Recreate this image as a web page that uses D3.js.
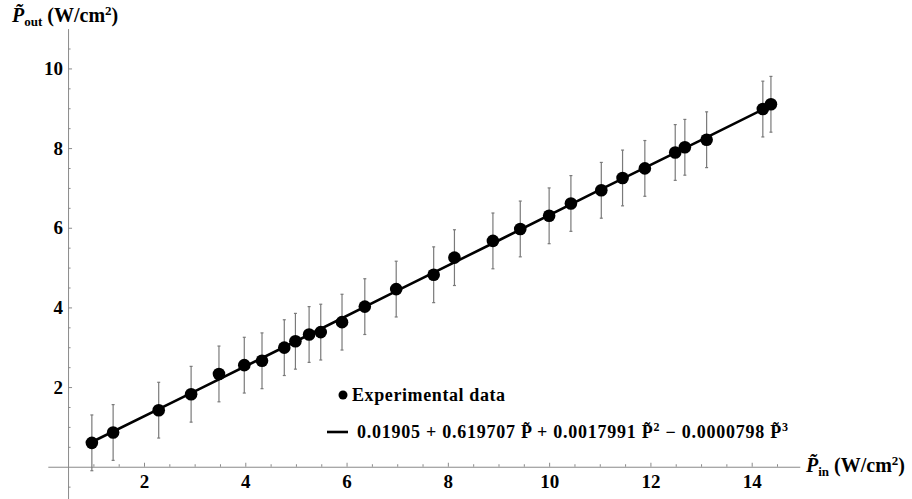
<!DOCTYPE html>
<html>
<head>
<meta charset="utf-8">
<script src="https://cdn.jsdelivr.net/npm/d3@7"></script>
<style>
  body { margin: 0; background: #fff; }
  svg text { font-family: "Liberation Serif", "DejaVu Serif", "Noto Serif", serif; font-weight: bold; }
</style>
</head>
<body>
<div id="chart"></div>
<script>
// Measured input / output power density (W/cm2)
const pIn = [0.97, 1.39, 2.29, 2.93, 3.48, 3.98, 4.33, 4.77, 4.99, 5.26, 5.49, 5.91, 6.36, 6.98,
  7.72, 8.13, 8.89, 9.43, 10.0, 10.43, 11.03, 11.45, 11.89, 12.49, 12.68, 13.11, 14.22, 14.38];
const pOut = [0.6, 0.86, 1.42, 1.82, 2.33, 2.55, 2.66, 2.99, 3.15, 3.32, 3.38, 3.63, 4.02, 4.46,
  4.82, 5.25, 5.67, 5.97, 6.3, 6.61, 6.94, 7.25, 7.49, 7.89, 8.02, 8.21, 8.98, 9.1];
const pOutErr = [0.7, 0.7, 0.7, 0.7, 0.7, 0.7, 0.7, 0.7, 0.7, 0.7, 0.7, 0.7, 0.7, 0.7,
  0.7, 0.7, 0.7, 0.7, 0.7, 0.7, 0.7, 0.7, 0.7, 0.7, 0.7, 0.7, 0.7, 0.7];

// Fitted curve
const fitX = [0.97, 3, 5, 7, 9, 11, 13, 14.38];
const fitY = [0.62, 1.89, 3.15, 4.42, 5.68, 6.95, 8.2, 9.07];

const xTicks = [2, 4, 6, 8, 10, 12, 14];
const yTicks = [2, 4, 6, 8, 10];

const width = 912, height = 499;
const serif = '"Liberation Serif", "DejaVu Serif", "Noto Serif", serif';

const svg = d3.select('#chart')
  .append('svg')
  .attr('width', width)
  .attr('height', height);

// Scales (axes cross at x = 0.5, y = 0, Mathematica style)
const x = d3.scaleLinear().domain([0.1, 14.95]).range([47.8, 799.8]);
const y = d3.scaleLinear().domain([-0.8, 11.0]).range([498.6, 28.6]);
const axisColor = '#8a8a8a';

// Minor ticks every 0.5
const xMinor = d3.range(1, 15, 0.5).filter((v) => v % 2 !== 0);
const yMinor = d3.range(-0.5, 11, 0.5).filter((v) => v % 2 !== 0 && v !== 0);

// X axis
const xAxisG = svg.append('g').attr('transform', 'translate(0,' + y(0) + ')');
xAxisG.call(d3.axisBottom(x).tickValues(xTicks).tickSizeInner(-4).tickSizeOuter(0).tickPadding(8));
xAxisG.append('g')
  .call(d3.axisBottom(x).tickValues(xMinor).tickSizeInner(-2.5).tickSizeOuter(0).tickFormat(''))
  .select('.domain').remove();

// Y axis
const yAxisG = svg.append('g').attr('transform', 'translate(' + x(0.5) + ',0)');
yAxisG.call(d3.axisLeft(y).tickValues(yTicks).tickSizeInner(-4).tickSizeOuter(0).tickPadding(5));
yAxisG.append('g')
  .call(d3.axisLeft(y).tickValues(yMinor).tickSizeInner(-2.5).tickSizeOuter(0).tickFormat(''))
  .select('.domain').remove();

svg.selectAll('g').attr('font-family', serif);
svg.selectAll('.domain, .tick line').attr('stroke', axisColor).attr('stroke-width', 1);
svg.selectAll('.tick text')
  .attr('fill', '#000')
  .style('font-size', '19px')
  .style('font-family', serif)
  .style('font-weight', 'bold');

// Error bars
const pts = pIn.map((v, i) => ({ x: v, y: pOut[i], e: pOutErr[i] }));
const err = svg.append('g').attr('stroke', '#7a7a7a').attr('stroke-width', 1.2);
err.selectAll('line.bar')
  .data(pts)
  .enter()
  .append('line')
  .attr('class', 'bar')
  .attr('x1', (d) => x(d.x))
  .attr('x2', (d) => x(d.x))
  .attr('y1', (d) => y(d.y - d.e))
  .attr('y2', (d) => y(d.y + d.e));
['top', 'bottom'].forEach((side) => {
  err.selectAll('line.cap-' + side)
    .data(pts)
    .enter()
    .append('line')
    .attr('class', 'cap-' + side)
    .attr('x1', (d) => x(d.x) - 1.5)
    .attr('x2', (d) => x(d.x) + 1.5)
    .attr('y1', (d) => y(side === 'top' ? d.y + d.e : d.y - d.e))
    .attr('y2', (d) => y(side === 'top' ? d.y + d.e : d.y - d.e));
});

// Fit line
const line = d3.line().x((d) => x(d[0])).y((d) => y(d[1]));
svg.append('path')
  .datum(fitX.map((v, i) => [v, fitY[i]]))
  .attr('fill', 'none')
  .attr('stroke', '#000')
  .attr('stroke-width', 2.6)
  .attr('d', line);

// Points
svg.append('g')
  .selectAll('circle')
  .data(pts)
  .enter()
  .append('circle')
  .attr('cx', (d) => x(d.x))
  .attr('cy', (d) => y(d.y))
  .attr('r', 6.3)
  .attr('fill', '#000');

// Axis labels
function axisLabel(px, py, sub) {
  const t = svg.append('text').attr('x', px).attr('y', py)
    .style('font-size', '20px').style('font-family', serif);
  t.append('tspan').style('font-style', 'italic').text('P\u0303');
  t.append('tspan').attr('dy', 4).style('font-size', '13px').text(sub);
  t.append('tspan').attr('dy', -4).text(' (W/cm');
  t.append('tspan').attr('dy', -7).style('font-size', '13px').text('2');
  t.append('tspan').attr('dy', 7).text(')');
}
axisLabel(12, 22, 'out');
axisLabel(806, 472, 'in');

// Legend
const legend = svg.append('g');
legend.append('circle').attr('cx', 343).attr('cy', 395).attr('r', 4.5).attr('fill', '#000');
legend.append('text').attr('x', 352).attr('y', 401)
  .style('font-size', '18px').style('letter-spacing', '0.6px')
  .style('font-family', serif).text('Experimental data');
legend.append('line')
  .attr('x1', 327).attr('x2', 348).attr('y1', 432).attr('y2', 432)
  .attr('stroke', '#000').attr('stroke-width', 2.6);
const eq = legend.append('text').attr('x', 357).attr('y', 438)
  .style('font-size', '18px').style('letter-spacing', '0.75px').style('font-family', serif);
eq.append('tspan').text('0.01905 + 0.619707 P\u0303 + 0.0017991 P\u0303');
eq.append('tspan').attr('dy', -7).style('font-size', '12px').text('2');
eq.append('tspan').attr('dy', 7).text(' \u2212 0.0000798 P\u0303');
eq.append('tspan').attr('dy', -7).style('font-size', '12px').text('3');
</script>
</body>
</html>
